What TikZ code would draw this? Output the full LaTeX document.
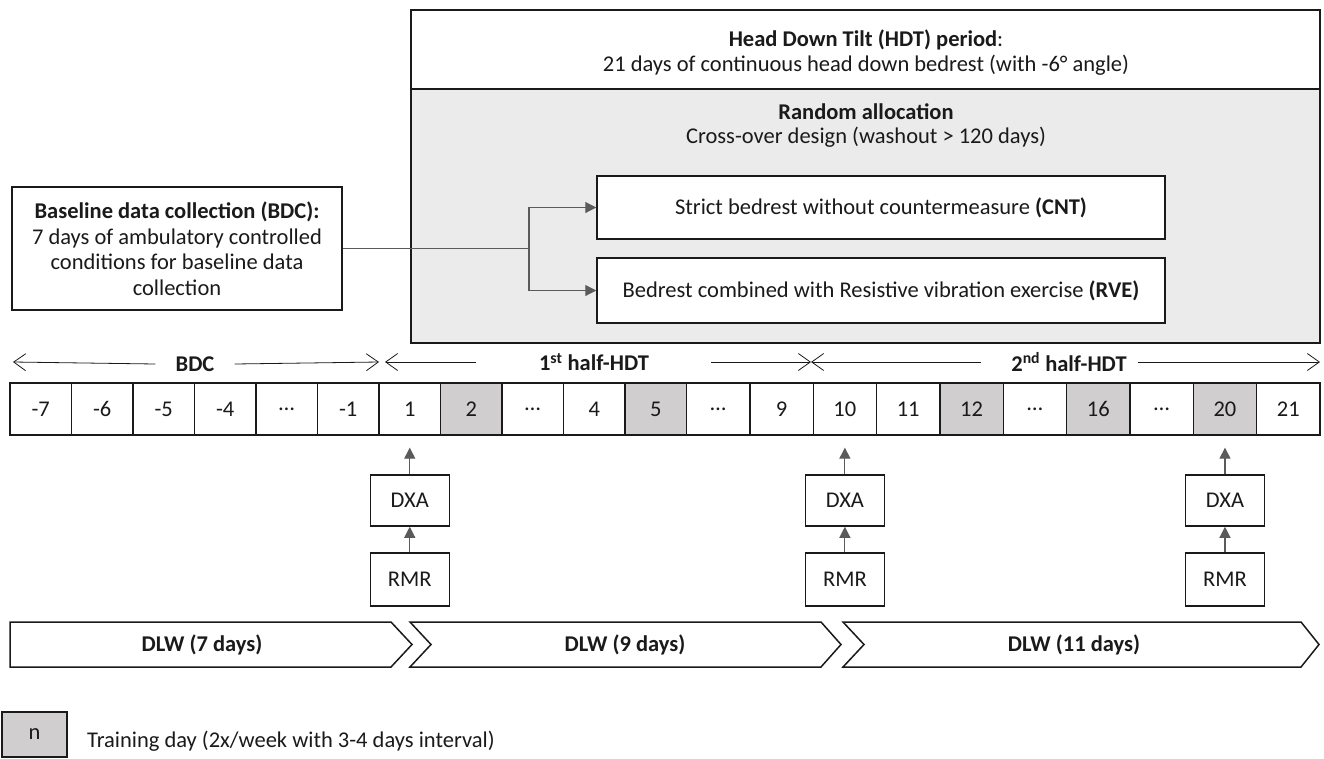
\documentclass[tikz,border=0pt]{standalone}
\usepackage{fontspec}
\setmainfont{Carlito}
\usetikzlibrary{arrows.meta}
\definecolor{panelgray}{HTML}{EBEBEB}
\definecolor{daygray}{HTML}{D0CECE}
\definecolor{linegray}{HTML}{5A5A5A}
\definecolor{ink}{HTML}{1A1A1A}
\tikzset{
  base/.style={inner sep=0pt, align=center, text=ink},
  panel/.style={base, draw=ink, line width=1.8pt},
  box/.style={base, draw=ink, line width=1.5pt, fill=white},
  daycell/.style={base, draw=ink, line width=1.3pt, minimum height=52pt},
  conn/.style={draw=linegray, line width=1.1pt, -{Triangle[length=11pt,width=11pt]}},
  plain/.style={draw=linegray, line width=1.1pt},
  span/.style={draw=ink, line width=0.8pt, -{Straight Barb[length=12pt,width=17pt]}},
  chev/.style={draw=ink, line width=1.5pt, fill=white, line join=miter},
}
\begin{document}
\begin{tikzpicture}[x=1pt, y=-1pt, font=\fontsize{22.5}{25.5}\selectfont]
\useasboundingbox (0,0) rectangle (1324,758);

% HDT panel
\node[panel, fill=white, minimum width=909pt, minimum height=79pt] (hdt) at (865.5,49.5) {};
\node[panel, fill=panelgray, minimum width=909pt, minimum height=254pt] (rand) at (865.5,216) {};
\node[base] (hdtt1) at (866,40) {\textbf{Head Down Tilt (HDT) period}:};
\node[base] (hdtt2) at (866,65) {21 days of continuous head down bedrest (with -6° angle)};
\node[base] (randt1) at (866,112) {\textbf{Random allocation}};
\node[base] (randt2) at (866,137) {Cross-over design (washout > 120 days)};

\node[box, minimum width=568pt, minimum height=63pt] (cnt) at (881,207.5)
  {Strict bedrest without countermeasure \textbf{(CNT)}};
\node[box, minimum width=568pt, minimum height=65pt] (rve) at (881,290.5)
  {Bedrest combined with Resistive vibration exercise \textbf{(RVE)}};

% BDC box
\node[box, minimum width=330pt, minimum height=123pt] (bdc) at (177,248.5)
  {\textbf{Baseline data collection (BDC):}\\7 days of ambulatory controlled\\conditions for baseline data\\collection};

\coordinate (jn) at (529,248.5);
\draw[plain] (bdc.east) -- (jn);
\draw[conn] (jn) |- (cnt.west);
\draw[conn] (jn) |- (rve.west);

% period spans
\node[base] (lbdc) at (195,364) {\textbf{BDC}};
\node[base] (lh1) at (594,362) {\textbf{1\textsuperscript{st} half-HDT}};
\node[base] (lh2) at (1069,362) {\textbf{2\textsuperscript{nd} half-HDT}};
\coordinate (s1a) at (13,362);
\coordinate (s1b) at (379,362);
\coordinate (s2a) at (385,362);
\coordinate (s2b) at (811,362);
\coordinate (s3a) at (811,362);
\coordinate (s3b) at (1320,362);
\draw[span] ([xshift=-20pt]lbdc.west) -- (s1a);
\draw[span] ([xshift=20pt]lbdc.east) -- (s1b);
\draw[span] ([xshift=-63pt]lh1.west) -- (s2a);
\draw[span] ([xshift=62pt]lh1.east) -- (s2b);
\draw[span] ([xshift=-30pt]lh2.west) -- (s3a);
\draw[span] ([xshift=11pt]lh2.east) -- (s3b);

% day cells
\foreach \l/\r/\t/\f [count=\i] in {
  10/71.5/-7/white, 71.5/133/-6/white, 133/194.5/-5/white, 194.5/256/-4/white,
  256/317.5/…/white, 317.5/379/-1/white, 379/440.5/1/white, 440.5/502/2/daygray,
  502/563.5/…/white, 563.5/625/4/white, 625/686.5/5/daygray, 686.5/749.85/…/white,
  749.85/813.2/9/white, 813.2/876.55/10/white, 876.55/939.9/11/white,
  939.9/1003.25/12/daygray, 1003.25/1066.6/…/white, 1066.6/1129.95/16/daygray,
  1129.95/1193.3/…/white, 1193.3/1256.65/20/daygray, 1256.65/1320/21/white}
{
  \node[daycell, fill=\f, minimum width={\r-\l}] (c\i) at ({(\l+\r)/2},409) {\t};
}

% measurements
\foreach \c/\n in {7/a, 14/b, 20/c} {
  \node[box, minimum width=79pt, minimum height=51pt] (dxa\n) at (c\c.center |- 0,500.5) {DXA};
  \node[box, minimum width=79pt, minimum height=53pt] (rmr\n) at (c\c.center |- 0,579.5) {RMR};
  \draw[conn] (dxa\n.north) -- ([yshift=-12pt]c\c.south);
  \draw[conn] (rmr\n.north) -- (dxa\n.south);
}

% DLW chevrons
\draw[chev] (10,622) -- (391,622) -- (412,644.5) -- (391,667) -- (10,667) -- cycle;
\draw[chev] (410,622) -- (821,622) -- (841,644.5) -- (821,667) -- (410,667) -- (431,644.5) -- cycle;
\draw[chev] (843,622) -- (1301,622) -- (1319,644.5) -- (1301,667) -- (843,667) -- (864,644.5) -- cycle;
\node[base] (dlw1) at (202,645) {\textbf{DLW (7 days)}};
\node[base] (dlw2) at (625,645) {\textbf{DLW (9 days)}};
\node[base] (dlw3) at (1074,645) {\textbf{DLW (11 days)}};

% legend
\node[base, draw=ink, line width=1.5pt, fill=daygray, minimum width=65pt, minimum height=45pt] (leg) at (34.5,734.5) {n};
\node[base, anchor=west] (legt) at (87,741) {Training day (2x/week with 3-4 days interval)};
\end{tikzpicture}
\end{document}
